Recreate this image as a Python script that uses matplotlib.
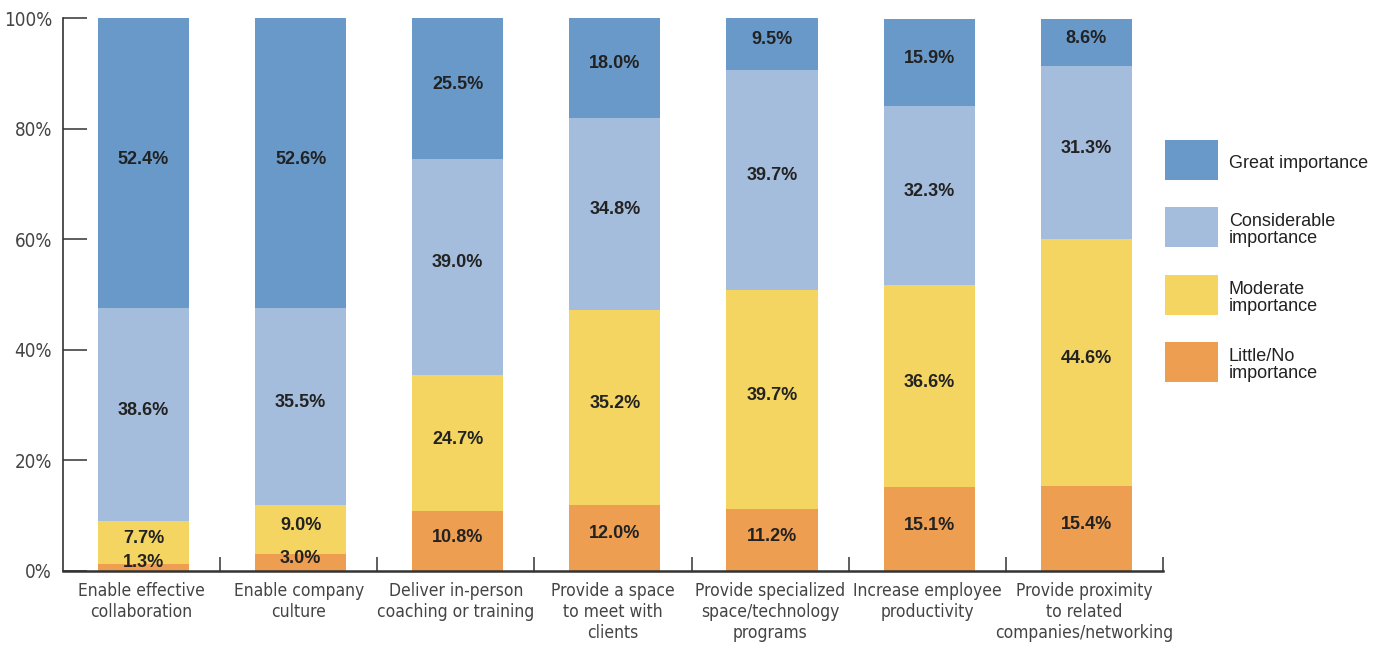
import matplotlib
matplotlib.use("Agg")
import matplotlib.pyplot as plt
from matplotlib.patches import Rectangle
from matplotlib.ticker import FixedLocator, FuncFormatter
import numpy as np

CATEGORIES = [
    "Enable effective\ncollaboration",
    "Enable company\nculture",
    "Deliver in-person\ncoaching or training",
    "Provide a space\nto meet with\nclients",
    "Provide specialized\nspace/technology\nprograms",
    "Increase employee\nproductivity",
    "Provide proximity\nto related\ncompanies/networking",
]
LITTLE = [1.3, 3.0, 10.8, 12.0, 11.2, 15.1, 15.4]
MODERATE = [7.7, 9.0, 24.7, 35.2, 39.7, 36.6, 44.6]
CONSIDERABLE = [38.6, 35.5, 39.0, 34.8, 39.7, 32.3, 31.3]
GREAT = [52.4, 52.6, 25.5, 18.0, 9.5, 15.9, 8.6]
SERIES_NAMES = ["Little/No\nimportance", "Moderate\nimportance",
                "Considerable\nimportance", "Great importance"]
Y_TICKS = [0, 20, 40, 60, 80, 100]

COLORS = ["#EE9E50", "#F4D562", "#A5BDDC", "#6899C9"]
TEXT_DARK = "#222222"
TICK_GRAY = "#444444"
BOLD = ["Liberation Sans", "DejaVu Sans"]
NARROW = dict(family="DejaVu Sans", stretch="condensed")

fig = plt.figure(figsize=(13.85, 6.45), dpi=100)
ax = fig.add_axes([63 / 1385, 1 - 571 / 645, 1100 / 1385, 553 / 645])

x = np.arange(len(CATEGORIES))
series = [LITTLE, MODERATE, CONSIDERABLE, GREAT]
bottom = np.zeros(len(CATEGORIES))
for vals, color in zip(series, COLORS):
    vals = np.array(vals)
    ax.bar(x + 0.012, vals, bottom=bottom, width=0.58, color=color,
           linewidth=0, zorder=2)
    for xi, b, v in zip(x, bottom, vals):
        ypos = max(b + v / 2 + 0.7, 1.6)
        ax.text(xi + 0.012, ypos, f"{v:.1f}%", ha="center", va="center",
                fontsize=13, fontweight="bold", color=TEXT_DARK,
                family=BOLD, zorder=3)
    bottom += vals

ax.set_xlim(-0.5, len(CATEGORIES) - 0.5)
ax.set_ylim(0, 100)

for side in ["top", "right"]:
    ax.spines[side].set_visible(False)
ax.spines["left"].set_linewidth(1.2)
ax.spines["left"].set_color("#333333")
ax.spines["bottom"].set_linewidth(1.8)
ax.spines["bottom"].set_color("#333333")

ax.yaxis.set_major_locator(FixedLocator(Y_TICKS))
ax.yaxis.set_major_formatter(FuncFormatter(lambda v, p: f"{v:.0f}%"))
ax.tick_params(axis="y", direction="in", length=17, width=1.1,
               color="#333333", pad=8, labelsize=13.5, labelcolor=TICK_GRAY)
for lab in ax.get_yticklabels():
    lab.set_family(NARROW["family"])
    lab.set_stretch(NARROW["stretch"])

ax.set_xticks(x)
ax.set_xticklabels(CATEGORIES, fontsize=12.5, color=TICK_GRAY,
                   linespacing=1.2, **NARROW)
ax.tick_params(axis="x", which="major", length=0, pad=8)
ax.xaxis.set_minor_locator(FixedLocator(np.arange(len(CATEGORIES)) + 0.5))
ax.tick_params(axis="x", which="minor", direction="in", length=10,
               width=1.1, color="#333333")

# legend, drawn by hand to match the spacing
leg_centers = [362, 295, 227, 160]
for name, color, yc in zip(SERIES_NAMES, COLORS, leg_centers):
    fig.patches.append(Rectangle((1165 / 1385, 1 - (yc + 20) / 645),
                                 53 / 1385, 40 / 645, transform=fig.transFigure,
                                 facecolor=color, edgecolor="none"))
    fig.text(1229 / 1385, 1 - (yc + 3) / 645, name, ha="left", va="center",
             fontsize=13, color=TEXT_DARK, family=BOLD, linespacing=1.0)

fig.savefig("out.png", dpi=100, facecolor="white")
